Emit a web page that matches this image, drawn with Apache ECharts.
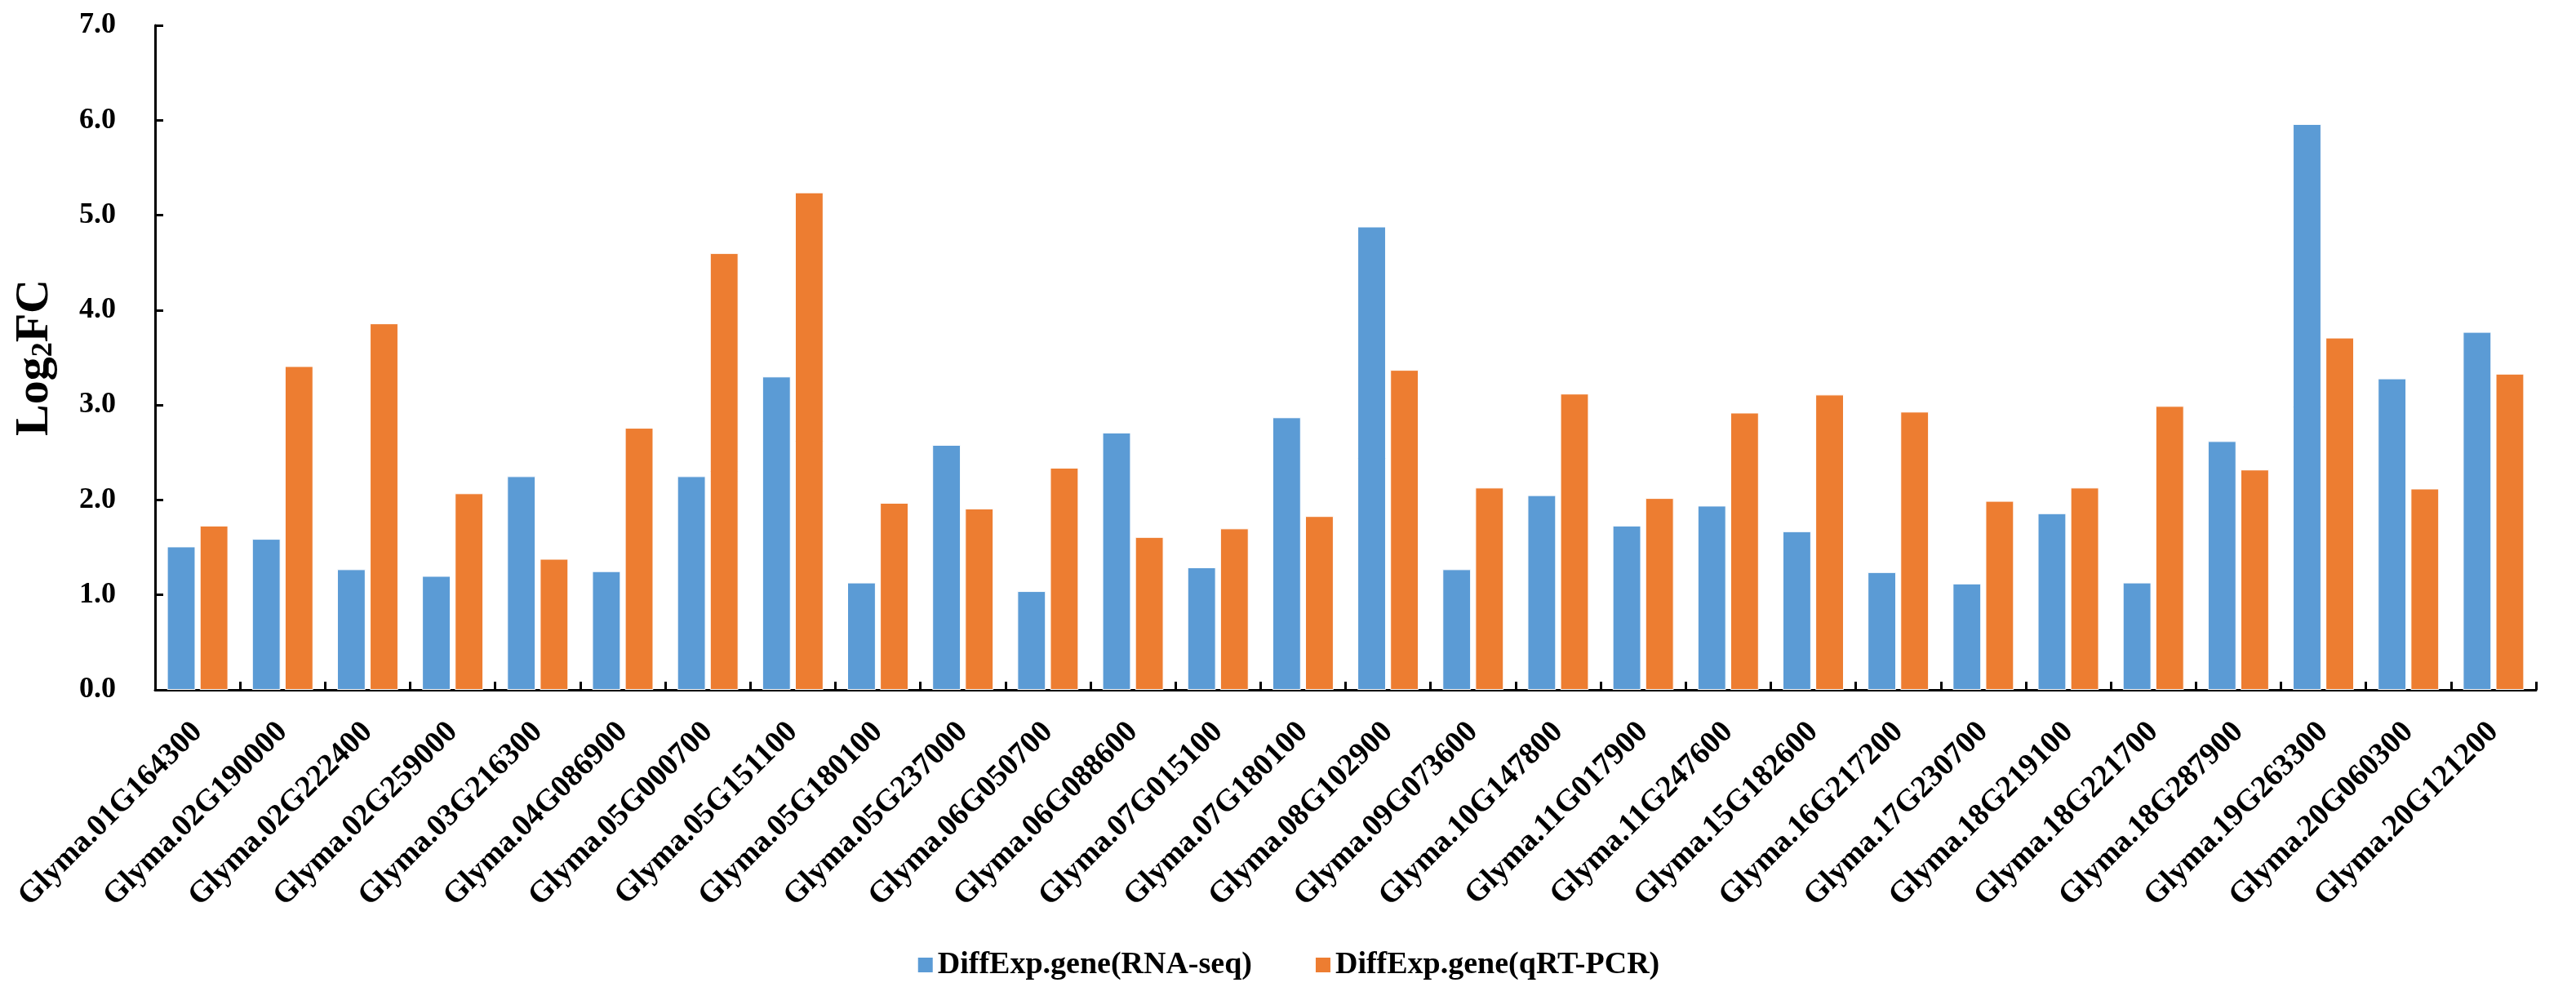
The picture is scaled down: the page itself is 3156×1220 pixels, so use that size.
<!DOCTYPE html>
<html>
<head>
<meta charset="utf-8">
<script src="https://cdn.jsdelivr.net/npm/echarts@6/dist/echarts.min.js"></script>
<style>
html,body{margin:0;padding:0;background:#fff;}
#chart{width:3156px;height:1220px;}
</style>
</head>
<body>
<div id="chart"></div>
<script>
const categories = [
  "Glyma.01G164300","Glyma.02G190000","Glyma.02G222400","Glyma.02G259000","Glyma.03G216300",
  "Glyma.04G086900","Glyma.05G000700","Glyma.05G151100","Glyma.05G180100","Glyma.05G237000",
  "Glyma.06G050700","Glyma.06G088600","Glyma.07G015100","Glyma.07G180100","Glyma.08G102900",
  "Glyma.09G073600","Glyma.10G147800","Glyma.11G017900","Glyma.11G247600","Glyma.15G182600",
  "Glyma.16G217200","Glyma.17G230700","Glyma.18G219100","Glyma.18G221700","Glyma.18G287900",
  "Glyma.19G263300","Glyma.20G060300","Glyma.20G121200"
];
const rnaSeq = [1.51,1.59,1.27,1.20,2.25,1.25,2.25,3.30,1.13,2.58,1.04,2.71,1.29,2.87,4.88,1.27,2.05,1.73,1.94,1.67,1.24,1.12,1.86,1.13,2.62,5.96,3.28,3.77];
const qrtPcr = [1.73,3.41,3.86,2.07,1.38,2.76,4.60,5.24,1.97,1.91,2.34,1.61,1.70,1.83,3.37,2.13,3.12,2.02,2.92,3.11,2.93,1.99,2.13,2.99,2.32,3.71,2.12,3.33];
const seriesNames = ["DiffExp.gene(RNA-seq)","DiffExp.gene(qRT-PCR)"];
const yTicks = {min:0, max:7, interval:1};

const FONT = '"Liberation Serif","Times New Roman",serif';
const chart = echarts.init(document.getElementById('chart'), null, {renderer:'canvas'});
chart.setOption({
  backgroundColor:'#ffffff',
  animation:false,
  grid:{left:190, right:49, top:31, bottom:375, containLabel:false},
  legend:{
    data:seriesNames,
    bottom:14,
    left:'center',
    icon:'rect',
    itemWidth:20,
    itemHeight:20,
    itemGap:76,
    textStyle:{fontFamily:FONT, fontWeight:'bold', fontSize:38, color:'#000'}
  },
  xAxis:{
    type:'category',
    data:categories,
    boundaryGap:true,
    axisLine:{lineStyle:{color:'#000', width:3}},
    axisTick:{show:true, inside:true, length:10, alignWithLabel:false, lineStyle:{color:'#000', width:3}},
    axisLabel:{interval:0, rotate:45, margin:46, fontFamily:FONT, fontWeight:'bold', fontSize:38, color:'#000'},
    splitLine:{show:false}
  },
  yAxis:{
    type:'value',
    min:yTicks.min, max:yTicks.max, interval:yTicks.interval,
    name:'{a|Log}{s|2}{a|FC}',
    nameLocation:'middle',
    nameGap:118,
    nameRotate:90,
    nameTextStyle:{
      rich:{
        a:{fontFamily:FONT, fontWeight:'bold', fontSize:58, color:'#000', verticalAlign:'bottom', lineHeight:60},
        s:{fontFamily:FONT, fontWeight:'bold', fontSize:36, color:'#000', verticalAlign:'bottom', lineHeight:52}
      }
    },
    axisLine:{show:true, lineStyle:{color:'#000', width:3}},
    axisTick:{show:true, inside:true, length:10, lineStyle:{color:'#000', width:3}},
    axisLabel:{margin:48, fontFamily:FONT, fontWeight:'bold', fontSize:36, color:'#000', formatter:v=>v.toFixed(1)},
    splitLine:{show:false}
  },
  series:[
    {name:seriesNames[0], type:'bar', data:rnaSeq, barGap:'15%', barCategoryGap:'28%',
     itemStyle:{color:'#5B9BD5', borderColor:'#ffffff', borderWidth:1}},
    {name:seriesNames[1], type:'bar', data:qrtPcr, barGap:'15%', barCategoryGap:'28%',
     itemStyle:{color:'#ED7D31', borderColor:'#ffffff', borderWidth:1}}
  ]
});
</script>
</body>
</html>
